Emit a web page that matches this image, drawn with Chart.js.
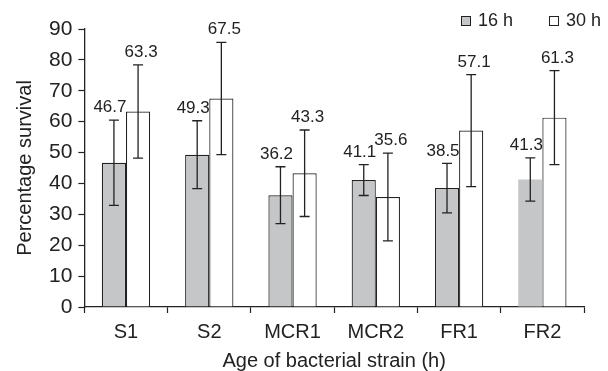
<!DOCTYPE html>
<html>
<head>
<meta charset="utf-8">
<script src="https://cdn.jsdelivr.net/npm/chart.js@4"></script>
<style>
  html, body { margin: 0; padding: 0; background: #fff; }
  #wrap { width: 608px; height: 371px; position: relative; }
</style>
</head>
<body>
<div id="wrap"><canvas id="c"></canvas></div>
<script>
const categories = ['S1', 'S2', 'MCR1', 'MCR2', 'FR1', 'FR2'];
const seriesNames = ['16 h', '30 h'];
const values16 = [46.7, 49.3, 36.2, 41.1, 38.5, 41.3];
const values30 = [63.3, 67.5, 43.3, 35.6, 57.1, 61.3];
const err16 = [13.8, 11.0, 9.2, 5.0, 8.0, 7.0];
const err30 = [15.1, 18.2, 14.0, 14.2, 18.1, 15.2];
const yTicks = [0, 10, 20, 30, 40, 50, 60, 70, 80, 90];

const FONT = '"Liberation Sans", Arial, Helvetica, sans-serif';
const INK = '#222222';
const GREY = '#c5c6c8';

const errorBarPlugin = {
  id: 'errorBars',
  afterDatasetsDraw(chart) {
    const ctx = chart.ctx;
    const y = chart.scales.y;
    const errs = [err16, err30];
    chart.data.datasets.forEach((ds, di) => {
      const meta = chart.getDatasetMeta(di);
      meta.data.forEach((bar, i) => {
        const v = ds.data[i];
        const e = errs[di][i];
        const x = bar.x;
        const yTop = y.getPixelForValue(v + e);
        const yBot = y.getPixelForValue(v - e);
        ctx.save();
        ctx.strokeStyle = INK;
        ctx.lineWidth = 1.3;
        ctx.beginPath();
        ctx.moveTo(x, yTop); ctx.lineTo(x, yBot);
        ctx.moveTo(x - 5, yTop); ctx.lineTo(x + 5, yTop);
        ctx.moveTo(x - 5, yBot); ctx.lineTo(x + 5, yBot);
        ctx.stroke();
        ctx.fillStyle = INK;
        ctx.font = '17px ' + FONT;
        ctx.textAlign = 'center';
        ctx.textBaseline = 'bottom';
        const dx = di === 0 ? -4 : 3;
        ctx.fillText(v.toFixed(1), x + dx, yTop - 4);
        ctx.restore();
      });
    });
  }
};

const legendPlugin = {
  id: 'customLegend',
  afterDraw(chart) {
    const ctx = chart.ctx;
    const items = [
      { label: seriesNames[0], fill: GREY, x: 461 },
      { label: seriesNames[1], fill: '#ffffff', x: 549 }
    ];
    ctx.save();
    ctx.font = '18px ' + FONT;
    ctx.textBaseline = 'middle';
    ctx.textAlign = 'left';
    items.forEach(it => {
      ctx.fillStyle = it.fill;
      ctx.fillRect(it.x, 16, 10, 10);
      ctx.strokeStyle = INK;
      ctx.lineWidth = 1;
      ctx.strokeRect(it.x + 0.5, 16.5, 9, 9);
      ctx.fillStyle = INK;
      ctx.fillText(it.label, it.x + 17, 21);
    });
    ctx.restore();
  }
};

new Chart(document.getElementById('c'), {
  type: 'bar',
  data: {
    labels: categories,
    datasets: [
      {
        label: seriesNames[0],
        data: values16,
        backgroundColor: GREY,
        borderColor: INK,
        borderWidth: [1.2, 1.2, 1.2, 1.2, 1.2, 0],
        borderSkipped: 'bottom',
        categoryPercentage: 0.58,
        barPercentage: 1.0
      },
      {
        label: seriesNames[1],
        data: values30,
        backgroundColor: '#ffffff',
        borderColor: INK,
        borderWidth: 1.2,
        borderSkipped: 'bottom',
        categoryPercentage: 0.58,
        barPercentage: 1.0
      }
    ]
  },
  options: {
    responsive: true,
    maintainAspectRatio: false,
    animation: false,
    layout: { padding: { top: 29, right: 24, bottom: 0, left: 13 } },
    plugins: {
      legend: { display: false },
      tooltip: { enabled: false }
    },
    scales: {
      x: {
        offset: true,
        grid: {
          offset: true,
          drawOnChartArea: false,
          drawTicks: true,
          tickLength: 6,
          color: INK,
          tickWidth: 1.2
        },
        border: { display: true, color: INK, width: 1.3 },
        ticks: { color: INK, font: { family: FONT, size: 20 }, padding: 7 },
        title: {
          display: true,
          text: 'Age of bacterial strain (h)',
          color: INK,
          font: { family: FONT, size: 20, lineHeight: 1.0 },
          padding: { top: 0, bottom: 0 }
        }
      },
      y: {
        min: 0,
        max: 90,
        afterBuildTicks(scale) { scale.ticks = yTicks.map(v => ({ value: v })); },
        grid: {
          drawOnChartArea: false,
          drawTicks: true,
          tickLength: 6,
          color: INK,
          tickWidth: 1.2
        },
        border: { display: true, color: INK, width: 1.3 },
        ticks: { color: INK, font: { family: FONT, size: 21 }, padding: 6 },
        title: {
          display: true,
          text: 'Percentage survival',
          color: INK,
          font: { family: FONT, size: 20 },
          padding: { top: 0, bottom: 6 }
        }
      }
    }
  },
  plugins: [errorBarPlugin, legendPlugin]
});
</script>
</body>
</html>
